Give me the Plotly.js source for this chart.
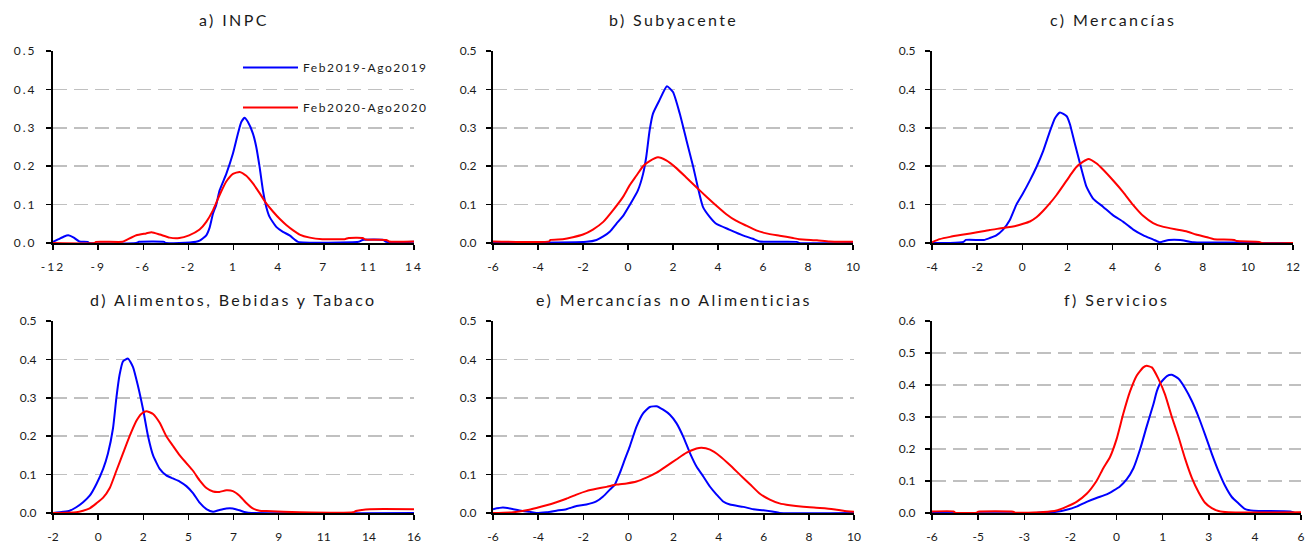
<!DOCTYPE html>
<html>
<head>
<meta charset="utf-8">
<script src="https://cdn.plot.ly/plotly-3.0.1.min.js"></script>
<style>
  html, body { margin: 0; padding: 0; background: #fff; }
  #chart { width: 1313px; height: 548px; }
  .xtick text, .ytick text { letter-spacing: 2px; }
  .legendtext { letter-spacing: 1.6px; }
  .annotation-text { letter-spacing: 2.4px; }
</style>
</head>
<body>
<div id="chart"></div>
<script>
// ---------------- DATA ----------------
const seriesNames = ["Feb2019-Ago2019", "Feb2020-Ago2020"];
const panelTitles = ["a) INPC", "b) Subyacente", "c) Mercancías",
  "d) Alimentos, Bebidas y Tabaco", "e) Mercancías no Alimenticias", "f) Servicios"];

// tick labels (evenly spaced along each axis)
const ticksA = ["-12", "-9", "-6", "-2", "1", "4", "7", "11", "14"];
const ticksB = ["-6", "-4", "-2", "0", "2", "4", "6", "8", "10"];
const ticksC = ["-4", "-2", "0", "2", "4", "6", "8", "10", "12"];
const ticksD = ["-2", "0", "2", "5", "7", "9", "11", "14", "16"];
const ticksE = ["-6", "-4", "-2", "0", "2", "4", "6", "8", "10"];
const ticksF = ["-6", "-5", "-3", "-2", "0", "1", "3", "4", "6"];

// a) INPC
const aBlueX = [-12, -11.6, -11.2, -10.9, -10.5, -10.1, -9.5, -9.4, -6.0, -5.8, -4.0, -3.9, -2.9, -1.7, -1.44, -0.96, -0.72, -0.48, -0.24, 0, 0.48, 0.96, 1.32, 1.56, 1.8, 2.04, 2.4, 2.64, 2.88, 3.12, 3.36, 3.6, 4.08, 4.56, 5.04, 5.4, 5.65, 10.0, 10.3, 11.8, 12.0, 14];
const aBlueY = [0.003, 0.01, 0.017, 0.02, 0.014, 0.004, 0.003, 0, 0, 0.003, 0.003, 0, 0, 0.003, 0.006, 0.02, 0.04, 0.076, 0.1, 0.137, 0.18, 0.233, 0.285, 0.315, 0.326, 0.315, 0.285, 0.25, 0.198, 0.137, 0.094, 0.068, 0.042, 0.029, 0.02, 0.009, 0.003, 0.003, 0.008, 0.008, 0.003, 0.003];
const aRedX = [-12, -9.0, -8.9, -7.0, -6.7, -6.0, -5.3, -4.9, -4.3, -3.6, -2.9, -2.2, -1.44, -0.96, -0.48, 0, 0.48, 0.96, 1.44, 1.92, 2.4, 2.88, 3.36, 3.84, 4.32, 4.8, 5.3, 5.76, 6.5, 7.4, 9.0, 9.3, 10.3, 10.5, 12.0, 12.2, 14];
const aRedY = [0, 0, 0.003, 0.003, 0.008, 0.02, 0.025, 0.028, 0.022, 0.014, 0.013, 0.02, 0.035, 0.055, 0.085, 0.125, 0.16, 0.18, 0.185, 0.175, 0.155, 0.13, 0.103, 0.082, 0.063, 0.047, 0.033, 0.022, 0.014, 0.01, 0.01, 0.013, 0.013, 0.009, 0.008, 0.004, 0.004];

// b) Subyacente
const bBlueX = [-6, -1.85, -1.4, -1.1, -0.8, -0.52, -0.2, 0.07, 0.44, 0.67, 0.81, 0.96, 1.11, 1.4, 1.73, 2.0, 2.3, 2.6, 2.9, 3.1, 3.33, 3.63, 3.92, 4.5, 5.1, 5.55, 5.85, 7.5, 7.6, 10];
const bBlueY = [0, 0.003, 0.008, 0.017, 0.03, 0.05, 0.072, 0.098, 0.137, 0.18, 0.224, 0.293, 0.337, 0.372, 0.408, 0.393, 0.337, 0.267, 0.198, 0.146, 0.094, 0.068, 0.05, 0.035, 0.02, 0.011, 0.004, 0.003, 0, 0];
const bRedX = [-6, -3.5, -3.45, -2.9, -2.45, -2.0, -1.56, -1.1, -0.67, -0.22, 0.07, 0.37, 0.67, 0.96, 1.33, 1.7, 2.15, 2.6, 3.04, 3.5, 3.93, 4.37, 4.8, 5.26, 5.7, 6.15, 6.74, 7.33, 7.6, 8.4, 8.96, 10];
const bRedY = [0.004, 0.004, 0.008, 0.01, 0.015, 0.022, 0.035, 0.055, 0.085, 0.12, 0.15, 0.175, 0.2, 0.213, 0.223, 0.215, 0.195, 0.17, 0.145, 0.12, 0.097, 0.075, 0.058, 0.045, 0.033, 0.025, 0.019, 0.013, 0.01, 0.007, 0.004, 0.003];

// c) Mercancías
const cBlueX = [-4, -3.2, -2.6, -2.5, -1.7, -1.44, -1.15, -0.85, -0.55, -0.26, 0.04, 0.34, 0.63, 0.93, 1.22, 1.45, 1.67, 1.97, 2.11, 2.33, 2.56, 2.85, 3.15, 3.59, 4.03, 4.48, 4.92, 5.37, 5.81, 5.96, 6.1, 6.5, 7.0, 7.6, 10.4, 10.5, 12];
const cBlueY = [0, 0, 0.003, 0.008, 0.008, 0.013, 0.02, 0.035, 0.06, 0.1, 0.13, 0.163, 0.198, 0.24, 0.29, 0.325, 0.34, 0.33, 0.31, 0.259, 0.207, 0.146, 0.115, 0.094, 0.072, 0.055, 0.035, 0.02, 0.009, 0.005, 0.002, 0.008, 0.008, 0.002, 0.001, 0, 0];
const cRedX = [-4, -3.66, -3.2, -2.6, -2.0, -1.44, -0.85, -0.26, 0.04, 0.34, 0.63, 0.93, 1.22, 1.52, 1.82, 2.11, 2.4, 2.7, 2.93, 3.3, 3.6, 4.04, 4.48, 4.9, 5.37, 5.8, 6.26, 6.85, 7.3, 7.7, 8.2, 8.5, 9.4, 9.5, 10.5, 10.6, 12];
const cRedY = [0.002, 0.01, 0.016, 0.022, 0.028, 0.034, 0.039, 0.045, 0.05, 0.056, 0.067, 0.084, 0.103, 0.125, 0.15, 0.175, 0.198, 0.212, 0.219, 0.207, 0.19, 0.162, 0.132, 0.1, 0.07, 0.052, 0.042, 0.035, 0.03, 0.022, 0.015, 0.01, 0.008, 0.005, 0.003, 0, 0];

// d) Alimentos, Bebidas y Tabaco
const dBlueX = [-2, -1.5, -1.17, -0.84, -0.5, -0.17, 0.16, 0.5, 0.74, 0.99, 1.16, 1.32, 1.49, 1.74, 1.99, 2.24, 2.49, 2.74, 2.99, 3.32, 3.65, 3.98, 4.32, 4.65, 4.98, 5.31, 5.65, 5.98, 6.3, 6.64, 6.97, 7.3, 7.6, 7.9, 16];
const dBlueY = [0, 0.003, 0.006, 0.015, 0.028, 0.045, 0.075, 0.115, 0.155, 0.22, 0.3, 0.36, 0.395, 0.402, 0.38, 0.33, 0.27, 0.2, 0.15, 0.115, 0.098, 0.09, 0.082, 0.07, 0.052, 0.027, 0.01, 0.003, 0.008, 0.012, 0.012, 0.007, 0.002, 0, 0];
const dRedX = [-2, -0.84, -0.5, -0.17, 0.16, 0.5, 0.83, 1.16, 1.49, 1.82, 2.16, 2.4, 2.65, 2.99, 3.32, 3.65, 3.98, 4.32, 4.65, 4.98, 5.31, 5.65, 5.98, 6.3, 6.64, 6.97, 7.3, 7.6, 7.96, 8.3, 8.64, 10.3, 12.96, 13.1, 13.8, 16];
const dRedY = [0, 0.002, 0.006, 0.012, 0.025, 0.04, 0.065, 0.11, 0.155, 0.2, 0.24, 0.258, 0.265, 0.258, 0.235, 0.2, 0.175, 0.15, 0.13, 0.11, 0.085, 0.065, 0.056, 0.055, 0.059, 0.057, 0.045, 0.028, 0.012, 0.006, 0.005, 0.002, 0.002, 0.005, 0.01, 0.01];

// e) Mercancías no Alimenticias
const eBlueX = [-6, -5.56, -5.1, -4.67, -4.37, -4.08, -3.63, -3.19, -2.75, -2.3, -1.86, -1.42, -1.12, -0.82, -0.6, -0.38, -0.16, 0.06, 0.36, 0.66, 0.95, 1.25, 1.54, 1.84, 2.13, 2.43, 2.73, 3.02, 3.32, 3.61, 3.91, 4.2, 4.5, 5.09, 5.54, 5.98, 6.57, 6.7, 10];
const eBlueY = [0.01, 0.014, 0.01, 0.005, 0.003, 0, 0.002, 0.006, 0.01, 0.018, 0.022, 0.03, 0.043, 0.061, 0.074, 0.104, 0.139, 0.173, 0.225, 0.26, 0.276, 0.278, 0.269, 0.256, 0.234, 0.199, 0.156, 0.121, 0.095, 0.069, 0.048, 0.03, 0.022, 0.016, 0.01, 0.007, 0.002, 0, 0];
const eRedX = [-6, -5.1, -4.52, -4.08, -3.63, -3.19, -2.75, -2.3, -1.86, -1.42, -0.97, -0.53, -0.08, 0.36, 0.8, 1.25, 1.69, 2.14, 2.58, 3.02, 3.24, 3.62, 4.06, 4.5, 4.94, 5.39, 5.83, 6.27, 6.7, 7.16, 7.75, 8.49, 9.08, 9.53, 10];
const eRedY = [0, 0.002, 0.007, 0.013, 0.02, 0.028, 0.037, 0.048, 0.057, 0.063, 0.068, 0.074, 0.077, 0.082, 0.092, 0.105, 0.122, 0.14, 0.157, 0.168, 0.17, 0.165, 0.148, 0.125, 0.1, 0.075, 0.05, 0.035, 0.025, 0.02, 0.016, 0.013, 0.01, 0.006, 0.003];

// f) Servicios
const fBlueX = [-6, -2.6, -2.38, -1.95, -1.62, -1.3, -0.97, -0.65, -0.32, -0.1, 0.11, 0.33, 0.55, 0.77, 0.98, 1.2, 1.31, 1.42, 1.64, 1.8, 2.01, 2.23, 2.45, 2.67, 2.88, 3.1, 3.32, 3.53, 3.75, 3.97, 4.19, 4.46, 5.65, 5.8, 6];
const fBlueY = [0, 0, 0.002, 0.004, 0.01, 0.02, 0.035, 0.047, 0.058, 0.07, 0.083, 0.105, 0.14, 0.2, 0.27, 0.34, 0.38, 0.405, 0.428, 0.432, 0.42, 0.39, 0.35, 0.3, 0.245, 0.185, 0.13, 0.085, 0.05, 0.03, 0.012, 0.007, 0.005, 0, 0];
const fRedX = [-6, -5.3, -5.25, -4.55, -4.5, -3.36, -3.3, -2.38, -1.95, -1.62, -1.3, -0.97, -0.65, -0.43, -0.21, 0.0, 0.22, 0.44, 0.66, 0.87, 0.98, 1.15, 1.36, 1.58, 1.8, 2.01, 2.23, 2.45, 2.67, 2.88, 3.1, 3.32, 3.64, 6];
const fRedY = [0.005, 0.005, 0.001, 0.001, 0.004, 0.004, 0.001, 0.003, 0.008, 0.02, 0.035, 0.06, 0.1, 0.14, 0.175, 0.23, 0.31, 0.38, 0.43, 0.455, 0.46, 0.455, 0.42, 0.37, 0.3, 0.24, 0.17, 0.11, 0.065, 0.032, 0.015, 0.006, 0.002, 0.002];

// ---------------- BUILD ----------------
const BLUE = "#0000ff", RED = "#ff0000";
const panels = [
  {bx: aBlueX, by: aBlueY, rx: aRedX, ry: aRedY, range: [-12, 14], ticks: ticksA, ymax: 0.5},
  {bx: bBlueX, by: bBlueY, rx: bRedX, ry: bRedY, range: [-6, 10], ticks: ticksB, ymax: 0.5},
  {bx: cBlueX, by: cBlueY, rx: cRedX, ry: cRedY, range: [-4, 12], ticks: ticksC, ymax: 0.5},
  {bx: dBlueX, by: dBlueY, rx: dRedX, ry: dRedY, range: [-2, 16], ticks: ticksD, ymax: 0.5},
  {bx: eBlueX, by: eBlueY, rx: eRedX, ry: eRedY, range: [-6, 10], ticks: ticksE, ymax: 0.5},
  {bx: fBlueX, by: fBlueY, rx: fRedX, ry: fRedY, range: [-6, 6], ticks: ticksF, ymax: 0.6}
];

const W = 1313, H = 548;
// plot-area pixel boxes [left, right, top, bottom]
const boxes = [
  [53, 414, 51, 243], [493, 853, 51, 243], [932, 1293, 51, 243],
  [53, 414, 321, 513], [493, 854, 321, 513], [932, 1301, 321, 513]
];
const titleY = [20, 299];

const data = [];
const layout = {
  width: W, height: H,
  margin: {l: 0, r: 0, t: 0, b: 0},
  paper_bgcolor: "#ffffff", plot_bgcolor: "#ffffff",
  font: {family: "Lato, 'Open Sans', sans-serif", size: 12, color: "#1a1a1a"},
  showlegend: true,
  legend: {
    x: 238 / W, y: 1 - 53 / H, xanchor: "left", yanchor: "top",
    bgcolor: "rgba(0,0,0,0)", borderwidth: 0,
    font: {size: 12, color: "#1a1a1a"},
    tracegroupgap: 21, itemwidth: 55, traceorder: "grouped"
  },
  annotations: []
};

panels.forEach((p, i) => {
  const n = i + 1;
  const xa = n === 1 ? "x" : "x" + n;
  const ya = n === 1 ? "y" : "y" + n;
  data.push({
    x: p.bx, y: p.by, xaxis: xa, yaxis: ya, type: "scatter", mode: "lines",
    name: seriesNames[0], legendgroup: "g1", showlegend: i === 0,
    line: {color: BLUE, width: 2, shape: "spline", smoothing: 0.5}, hoverinfo: "skip"
  });
  data.push({
    x: p.rx, y: p.ry, xaxis: xa, yaxis: ya, type: "scatter", mode: "lines",
    name: seriesNames[1], legendgroup: "g2", showlegend: i === 0,
    line: {color: RED, width: 2, shape: "spline", smoothing: 0.5}, hoverinfo: "skip"
  });
  const b = boxes[i];
  const nT = p.ticks.length;
  const tickvals = p.ticks.map((_, k) => p.range[0] + k * (p.range[1] - p.range[0]) / (nT - 1));
  layout["xaxis" + (n === 1 ? "" : n)] = {
    domain: [b[0] / W, b[1] / W], anchor: ya,
    range: p.range, tickmode: "array", tickvals: tickvals, ticktext: p.ticks,
    showgrid: false, zeroline: false, showline: true, linecolor: "#000", linewidth: 1.5,
    ticks: "outside", ticklen: 5, tickwidth: 1.5, tickcolor: "#000",
    ticklabelstandoff: 7, tickfont: {size: 12, color: "#1a1a1a"},
    layer: "below traces", fixedrange: true
  };
  layout["yaxis" + (n === 1 ? "" : n)] = {
    domain: [1 - b[3] / H, 1 - b[2] / H], anchor: xa,
    range: [0, p.ymax], tick0: 0, dtick: 0.1, tickformat: ".1f",
    showgrid: true, gridcolor: "#c0c0c0", gridwidth: 1.5, griddash: "14px,7px",
    zeroline: false, showline: true, linecolor: "#000", linewidth: 2,
    ticks: "outside", ticklen: 5, tickwidth: 1.5, tickcolor: "#000",
    ticklabelstandoff: 7, tickfont: {size: 12, color: "#1a1a1a"},
    layer: "below traces", fixedrange: true
  };
  layout.annotations.push({
    text: panelTitles[i], xref: "paper", yref: "paper",
    x: (b[0] + b[1]) / 2 / W, y: 1 - titleY[i < 3 ? 0 : 1] / H,
    xanchor: "center", yanchor: "middle", showarrow: false,
    font: {size: 16, color: "#1a1a1a"}
  });
});

Plotly.newPlot("chart", data, layout, {displayModeBar: false, staticPlot: true});
</script>
</body>
</html>
